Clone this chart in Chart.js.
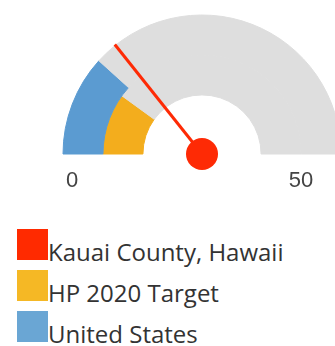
<!DOCTYPE html>
<html>
<head>
<meta charset="utf-8">
<script src="https://cdn.jsdelivr.net/npm/chart.js@4"></script>
<style>
  html, body { margin: 0; padding: 0; background: #fff; overflow: hidden; }
  body { width: 335px; height: 346px; position: relative; }
  #wrap { position: absolute; left: 0; top: 0; width: 404px; height: 200px; }
  #legend { position: absolute; left: 17px; top: 229px; font-family: "Open Sans", sans-serif; font-size: 24px; color: #333; }
  .item { display: flex; align-items: flex-end; height: 31px; margin-bottom: 10px; }
  .box { width: 31px; height: 31px; flex: none; }
  .lbl { line-height: 24px; position: relative; top: 4px; white-space: nowrap; }
</style>
</head>
<body>
<div id="wrap"><canvas id="c"></canvas></div>
<div id="legend"></div>
<script>
// Gauge range and tick labels
const scaleMin = 0;
const scaleMax = 50;
const tickLabels = ['0', '50'];

// Series
const seriesNames = ['Kauai County, Hawaii', 'HP 2020 Target', 'United States'];
const seriesColors = ['#fe2a05', '#f3ad1d', '#5b9bd1'];
const legendColors = ['#ff2a00', '#f5b825', '#6aa6d4'];
const kauaiValue = 14.3;
const targetValue = 10.0;
const usValue = 11.7;

const trackColor = '#dedede';

// Needle and end labels for the half-circle gauge
const gaugeExtras = {
  id: 'gaugeExtras',
  afterDatasetsDraw(chart) {
    const arc = chart.getDatasetMeta(0).data[0];
    const cx = arc.x, cy = arc.y, r = arc.outerRadius;
    const ctx = chart.ctx;
    const frac = (kauaiValue - scaleMin) / (scaleMax - scaleMin);
    const ang = Math.PI + frac * Math.PI;
    ctx.save();
    ctx.strokeStyle = seriesColors[0];
    ctx.lineWidth = 3;
    ctx.lineCap = 'butt';
    ctx.beginPath();
    ctx.moveTo(cx, cy);
    ctx.lineTo(cx + Math.cos(ang) * (r + 1), cy + Math.sin(ang) * (r + 1));
    ctx.stroke();
    ctx.fillStyle = seriesColors[0];
    ctx.beginPath();
    ctx.arc(cx, cy, 16, 0, Math.PI * 2);
    ctx.fill();

    ctx.fillStyle = '#444';
    ctx.font = '22px "Liberation Sans", Arial, sans-serif';
    ctx.textAlign = 'center';
    ctx.textBaseline = 'alphabetic';
    ctx.fillText(tickLabels[0], cx - r + 9, cy + 33);
    ctx.fillText(tickLabels[1], cx + r - 40, cy + 33);
    ctx.restore();
  }
};

new Chart(document.getElementById('c'), {
  type: 'doughnut',
  data: {
    labels: ['value', 'rest'],
    datasets: [
      {
        label: seriesNames[2],
        data: [usValue - scaleMin, scaleMax - usValue],
        backgroundColor: [seriesColors[2], trackColor],
        borderColor: [seriesColors[2], trackColor],
        borderWidth: 1
      },
      {
        label: seriesNames[1],
        data: [targetValue - scaleMin, scaleMax - targetValue],
        backgroundColor: [seriesColors[1], trackColor],
        borderColor: [seriesColors[1], trackColor],
        borderWidth: 1
      }
    ]
  },
  options: {
    responsive: true,
    maintainAspectRatio: false,
    animation: false,
    rotation: -90,
    circumference: 180,
    radius: 139,
    cutout: '42.5%',
    layout: { padding: { top: 0, bottom: 31, left: 0, right: 0 } },
    plugins: { legend: { display: false }, tooltip: { enabled: false } }
  },
  plugins: [gaugeExtras]
});

// Legend
const legend = document.getElementById('legend');
seriesNames.forEach((name, i) => {
  const item = document.createElement('div');
  item.className = 'item';
  const box = document.createElement('div');
  box.className = 'box';
  box.style.background = legendColors[i];
  const lbl = document.createElement('span');
  lbl.className = 'lbl';
  lbl.textContent = name;
  item.appendChild(box);
  item.appendChild(lbl);
  legend.appendChild(item);
});
</script>
</body>
</html>
